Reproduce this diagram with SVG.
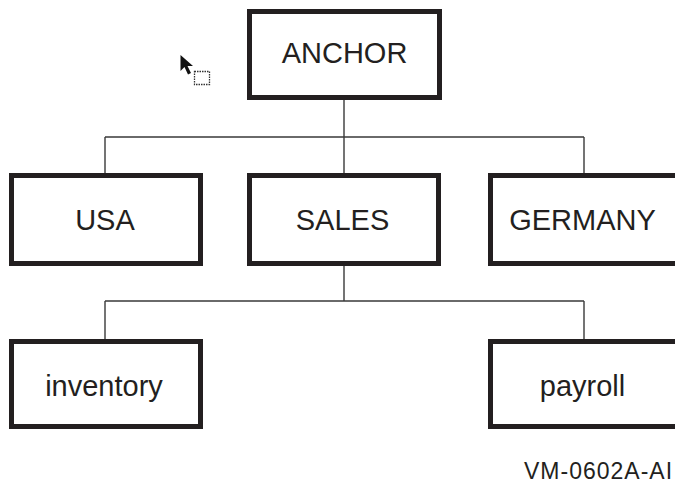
<svg xmlns="http://www.w3.org/2000/svg" width="675" height="484" viewBox="0 0 675 484">
  <style>
    .box { fill: #ffffff; stroke: #231f20; stroke-width: 5; }
    .label { font-family: "Liberation Sans", Arial, Helvetica, sans-serif; font-size: 29px; fill: #231f20; text-anchor: middle; }
    .wire { fill: none; stroke: #3a3a3a; stroke-width: 1.4; }
    .tag { font-family: "Liberation Sans", Arial, Helvetica, sans-serif; font-size: 23px; fill: #231f20; letter-spacing: 1px; }
  </style>
  <rect width="675" height="484" fill="#ffffff"/>

  <!-- connectors -->
  <g id="connectors">
    <path class="wire" d="M344 100 V174 M105 137 H584 M105 137 V174 M584 137 V174"/>
    <path class="wire" d="M344 266 V301 M105 301 H584 M105 301 V339 M584 301 V339"/>
  </g>

  <!-- nodes -->
  <g id="anchor">
    <rect class="box" x="249.5" y="11.5" width="190" height="86"/>
    <text class="label" x="344.5" y="63">ANCHOR</text>
  </g>
  <g id="usa">
    <rect class="box" x="11.5" y="175.5" width="189" height="88"/>
    <text class="label" x="105" y="230">USA</text>
  </g>
  <g id="sales">
    <rect class="box" x="249.5" y="175.5" width="189" height="88"/>
    <text class="label" x="342.5" y="230">SALES</text>
  </g>
  <g id="germany">
    <rect class="box" x="490.5" y="175.5" width="189" height="88"/>
    <text class="label" x="582.5" y="230">GERMANY</text>
  </g>
  <g id="inventory">
    <rect class="box" x="11.5" y="341.5" width="189" height="85"/>
    <text class="label" x="104" y="396">inventory</text>
  </g>
  <g id="payroll">
    <rect class="box" x="490.5" y="341.5" width="189" height="85"/>
    <text class="label" x="582.5" y="396">payroll</text>
  </g>

  <!-- pointer with drag outline -->
  <g id="pointer">
    <path d="M180.5 55 L180.5 71 L184.5 67 L188 74.5 L191 73 L187.5 66 L193 66 Z" fill="#111111"/>
    <rect x="194.5" y="71.5" width="15" height="13" fill="none" stroke="#333333" stroke-width="1.3" stroke-dasharray="1.5 1"/>
  </g>

  <text class="tag" x="524" y="479">VM-0602A-AI</text>
</svg>
